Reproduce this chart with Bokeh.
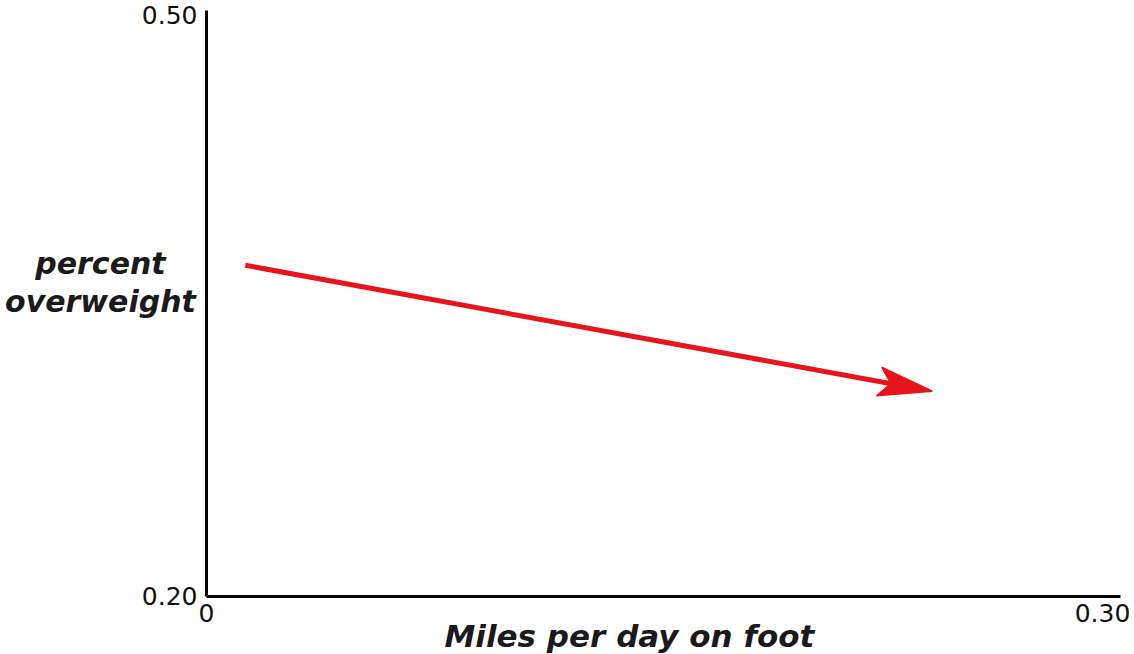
import math
from bokeh.plotting import figure
from bokeh.models import Arrow, Label, FixedTicker, Range1d
from bokeh.embed import file_html
from bokeh.resources import INLINE

# data
x_ticks = [0, 0.30]
x_tick_labels = ["0", "0.30"]
y_ticks = [0.20, 0.50]
y_tick_labels = ["0.20", "0.50"]
arrow_x = [0.013, 0.243]
arrow_y = [0.371, 0.306]
x_title = "Miles per day on foot"
y_title = ["percent", "overweight"]

W, H = 1134, 654
X0, X1 = -0.06897, 0.31071
Y0, Y1 = 0.17005, 0.50774
RED = "#e8141c"

p = figure(width=W, height=H, output_backend="svg", toolbar_location=None,
           x_range=Range1d(X0, X1), y_range=Range1d(Y0, Y1), min_border=0)
p.outline_line_color = None
p.grid.visible = False
p.background_fill_color = "white"
p.border_fill_color = "white"

p.xaxis.fixed_location = 0.20
p.yaxis.fixed_location = 0
p.xaxis.bounds = (0, 0.306)
p.yaxis.bounds = (0.20, 0.5026)

for ax, ticks, labels, standoff in [(p.xaxis[0], x_ticks, x_tick_labels, 8),
                                     (p.yaxis[0], y_ticks, y_tick_labels, 9)]:
    ax.ticker = FixedTicker(ticks=ticks)
    ax.major_label_overrides = {t: l for t, l in zip(ticks, labels)}
    ax.axis_line_color = "black"
    ax.axis_line_width = 3
    ax.major_tick_out = 0
    ax.major_tick_in = 0
    ax.minor_tick_out = 0
    ax.minor_tick_in = 0
    ax.major_label_text_font = "DejaVu Sans"
    ax.major_label_text_font_size = "25px"
    ax.major_label_text_color = "#111111"
    ax.major_label_standoff = standoff

# arrow head (notched), sized in pixels and converted through the plot scale
sx = W / (X1 - X0)
sy = H / (Y1 - Y0)
dxp = (arrow_x[1] - arrow_x[0]) * sx
dyp = (arrow_y[1] - arrow_y[0]) * sy
L = math.hypot(dxp, dyp)
ux, uy = dxp / L, dyp / L
nx, ny = -uy, ux
head_len, head_half, notch = 54, 14.5, 42
pts = [(0, 0), (-head_len, head_half), (-notch, 0), (-head_len, -head_half)]
hx = [arrow_x[1] + (a * ux + b * nx) / sx for a, b in pts]
hy = [arrow_y[1] + (a * uy + b * ny) / sy for a, b in pts]

# arrow shaft, ending inside the head's notch
p.add_layout(Arrow(end=None, x_start=arrow_x[0], y_start=arrow_y[0],
                   x_end=arrow_x[1] - (notch - 6) * ux / sx,
                   y_end=arrow_y[1] - (notch - 6) * uy / sy,
                   line_color=RED, line_width=5))
p.patch(hx, hy, fill_color=RED, line_color=RED, line_width=1.5)

p.add_layout(Label(x=0.1416, y=0.1794, text=x_title, text_align="center",
                   text_baseline="alphabetic", text_font="DejaVu Sans",
                   text_font_style="bold italic", text_font_size="31px", text_color="#1a1a1a"))
for t, yy in zip(y_title, [0.3720, 0.3524]):
    p.add_layout(Label(x=-0.0355, y=yy, text=t, text_align="center",
                       text_baseline="alphabetic", text_font="DejaVu Sans",
                       text_font_style="bold italic", text_font_size="30px", text_color="#1a1a1a"))

open("out.html", "w").write(file_html(p, INLINE))
